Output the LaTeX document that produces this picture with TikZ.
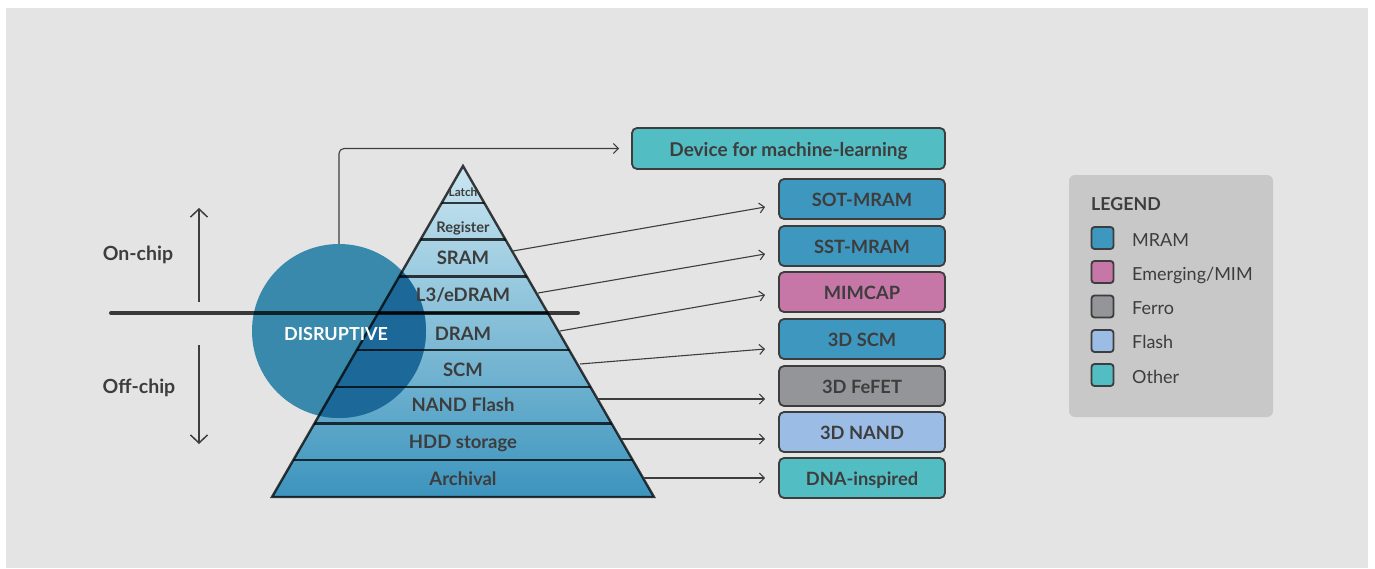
\documentclass[tikz,border=0pt]{standalone}
\usepackage{fontspec}
\setmainfont{Lato}
\usetikzlibrary{arrows.meta}
\definecolor{bgc}{HTML}{E3E4E3}
\definecolor{txt}{HTML}{3D3D3D}
\definecolor{dk}{HTML}{3D3D3D}
\definecolor{mram}{HTML}{3D97BE}
\definecolor{mim}{HTML}{C677A8}
\definecolor{ferro}{HTML}{939598}
\definecolor{flash}{HTML}{9BBDE5}
\definecolor{other}{HTML}{52BEC3}
\definecolor{legbg}{HTML}{C8C8C8}
\definecolor{pyrtop}{HTML}{CAE6F1}
\definecolor{pyrmid}{HTML}{8CC3DC}
\definecolor{pyrbot}{HTML}{3C94BD}
\definecolor{circc}{HTML}{3889AB}
\definecolor{overc}{HTML}{1C6898}
\tikzset{
  box/.style={draw=dk, line width=1.8pt, rounded corners=5pt, minimum width=166pt, minimum height=40pt, inner sep=0pt, text=txt, text height=15.5pt, text depth=0pt, font=\bfseries\fontsize{18.3}{20}\selectfont},
  swatch/.style={draw=dk, line width=1.8pt, rounded corners=3pt, minimum width=22pt, minimum height=22pt, inner sep=0pt},
  leglab/.style={anchor=west, text=txt, inner sep=0pt, text height=12.9pt, text depth=0pt, font=\fontsize{18}{20}\selectfont},
  plab/.style={text=txt, inner sep=0pt, text height=13.3pt, text depth=0pt, font=\bfseries\fontsize{18.5}{20}\selectfont},
  conn/.style={draw=dk, line width=1.1pt, -{Straight Barb[length=5pt,width=10pt,line width=1.1pt]}},
  vert/.style={draw=dk, line width=1.5pt, -{Straight Barb[length=8pt,width=17pt,line width=1.5pt]}},
  pline/.style={draw=black, draw opacity=0.75, line width=2.4pt},
}
\begin{document}
\begin{tikzpicture}[x=1pt,y=-1pt]
\useasboundingbox (0,0) rectangle (1375,568);
\fill[white] (0,0) rectangle (1375,568);
\fill[bgc] (6,8) rectangle (1368,568);

% pyramid fill
\begin{scope}
  \clip (463,166) -- (654,497) -- (272,497) -- cycle;
  \shade[top color=pyrtop, middle color=pyrmid, bottom color=pyrbot] (272,166) rectangle (654,497);
\end{scope}

% disruptive circle
\node[circle, fill=circc, minimum size=174pt, inner sep=0pt] (disc) at (339,331) {};
\begin{scope}
  \clip (463,166) -- (654,497) -- (272,497) -- cycle;
  \fill[overc] (disc.center) circle (87pt);
  \foreach \yy in {202.8,239.6,276.3,313.1,349.9,386.7,423.4,460.2}
    \draw[pline] (250,\yy) -- (680,\yy);
\end{scope}
\draw[pline, line join=miter] (463,166) -- (654,497) -- (272,497) -- cycle;

% pyramid labels
\node[plab, text height=8.5pt, font=\bfseries\fontsize{11.8}{13}\selectfont] (latch) at (463,192) {Latch};
\node[plab, text height=10.5pt, font=\bfseries\fontsize{14.6}{16}\selectfont] (register) at (463,227) {Register};
\node[plab] (sram) at (463,257.5) {SRAM};
\node[plab] (l3) at (463,295) {L3/eDRAM};
\node[plab] (dram) at (463,334) {DRAM};
\node[plab] (scm) at (463,369.7) {SCM};
\node[plab] (nand) at (463,404.7) {NAND Flash};
\node[plab] (hdd) at (463,441.5) {HDD storage};
\node[plab] (arch) at (463,479) {Archival};

\node[text=white, inner sep=0pt, text height=12.9pt, text depth=0pt, font=\bfseries\fontsize{18}{20}\selectfont] (disrupt) at (336,334.5) {DISRUPTIVE};

% on/off chip divider
\coordinate (divL) at (111,313);
\coordinate (divR) at (578,313);
\draw[draw=black, draw opacity=0.75, line width=4pt, line cap=round] (divL) -- (divR);

% left side
\node[plab, text height=14pt, font=\bfseries\fontsize{19.5}{21}\selectfont] (onchip) at (138,253.5) {On-chip};
\node[plab, text height=14pt, font=\bfseries\fontsize{19.5}{21}\selectfont] (offchip) at (139,386.7) {Off-chip};
\coordinate (upbot) at (199,302);
\coordinate (uptop) at (199,208);
\coordinate (dntop) at (199,345);
\coordinate (dnbot) at (199,444);
\draw[vert] (upbot) -- (uptop);
\draw[vert] (dntop) -- (dnbot);

% right boxes
\node[box, fill=other, minimum width=313pt, minimum height=41pt, font=\bfseries\fontsize{19}{21}\selectfont] (ml) at (788.5,148.5) {Device for machine-learning};
\node[box, fill=mram] (sot) at (862,199) {SOT-MRAM};
\node[box, fill=mram] (sst) at (862,246) {SST-MRAM};
\node[box, fill=mim] (mimcap) at (862,292) {MIMCAP};
\node[box, fill=mram] (scm3d) at (862,339) {3D SCM};
\node[box, fill=ferro] (fefet) at (862,386) {3D FeFET};
\node[box, fill=flash] (nand3d) at (862,432) {3D NAND};
\node[box, fill=other] (dna) at (862,478) {DNA-inspired};

% connectors
\coordinate (eSram) at (513,251);
\coordinate (eL3) at (538,293);
\coordinate (eDram) at (560,331);
\coordinate (eScm) at (580,364);
\coordinate (eNand) at (598,399);
\coordinate (eHdd) at (621,439);
\coordinate (eArch) at (644,478);
\draw[conn, rounded corners=5pt] (disc.north) |- ([xshift=-12pt]ml.west);
\draw[conn] (eSram) -- ([shift={(-13pt,-8pt)}]sot.west);
\draw[conn] (eL3) -- ([shift={(-13pt,-8pt)}]sst.west);
\draw[conn] (eDram) -- ([shift={(-13pt,-3pt)}]mimcap.west);
\draw[conn] (eScm) -- ([shift={(-13pt,-10pt)}]scm3d.west);
\draw[conn] (eNand) -- ([shift={(-13pt,-13pt)}]fefet.west);
\draw[conn] (eHdd) -- ([shift={(-13pt,-7pt)}]nand3d.west);
\draw[conn] (eArch) -- ([shift={(-13pt,0pt)}]dna.west);

% legend
\node[fill=legbg, rounded corners=6pt, minimum width=204pt, minimum height=242pt, inner sep=0pt] (legend) at (1171,296) {};
\node[anchor=west, text=txt, inner sep=0pt, text height=12.8pt, text depth=0pt, font=\bfseries\fontsize{17.8}{19}\selectfont] (legtitle) at (1091,204.5) {LEGEND};
\node[swatch, fill=mram] (sw1) at (1102.5,238) {};
\node[swatch, fill=mim] (sw2) at (1102.5,272) {};
\node[swatch, fill=ferro] (sw3) at (1102.5,306.5) {};
\node[swatch, fill=flash] (sw4) at (1102.5,341) {};
\node[swatch, fill=other] (sw5) at (1102.5,375) {};
\node[leglab] (lab1) at (1132,240) {MRAM};
\node[leglab] (lab2) at (1132,274) {Emerging/MIM};
\node[leglab] (lab3) at (1132,308) {Ferro};
\node[leglab] (lab4) at (1132,342.5) {Flash};
\node[leglab] (lab5) at (1132,377) {Other};
\end{tikzpicture}
\end{document}
